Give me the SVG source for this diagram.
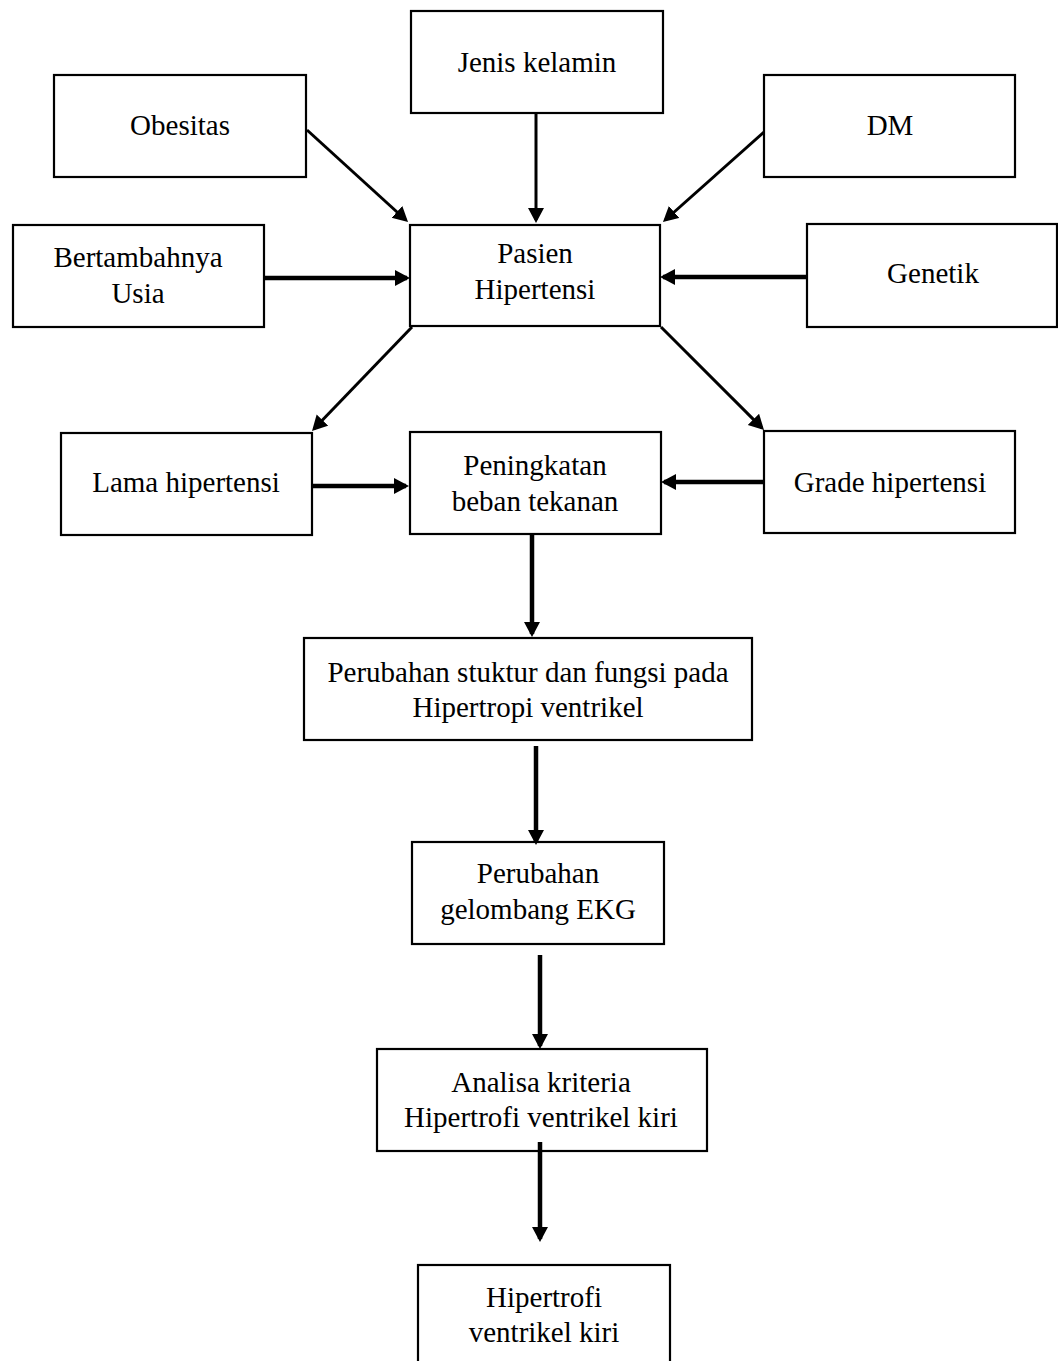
<svg xmlns="http://www.w3.org/2000/svg" width="1058" height="1361" viewBox="0 0 1058 1361">
<style>
.box{fill:#fff;stroke:#000;stroke-width:2.2}
.t{font-family:"Liberation Serif","Times New Roman",serif;font-size:29px;fill:#000;text-anchor:middle}
.c{fill:none;stroke:#000;stroke-width:3;marker-end:url(#ah)}
.c.k{stroke-width:4.5}
</style>
<defs>
<marker id="ah" markerUnits="userSpaceOnUse" markerWidth="18" markerHeight="18" refX="12" refY="8" orient="auto">
<path d="M0,0 L15,8 L0,16 z" fill="#000"/>
</marker>
</defs>
<rect width="1058" height="1361" fill="#fff"/>
<g id="jenis"><rect class="box" x="411" y="11" width="252" height="102"/><text class="t" x="537" y="72">Jenis kelamin</text></g>
<g id="obesitas"><rect class="box" x="54" y="75" width="252" height="102"/><text class="t" x="180" y="135">Obesitas</text></g>
<g id="dm"><rect class="box" x="764" y="75" width="251" height="102"/><text class="t" x="890" y="135">DM</text></g>
<g id="usia"><rect class="box" x="13" y="225" width="251" height="102"/><text class="t" x="138" y="267">Bertambahnya</text><text class="t" x="138" y="303">Usia</text></g>
<g id="pasien"><rect class="box" x="410" y="225" width="250" height="101"/><text class="t" x="535" y="263">Pasien</text><text class="t" x="535" y="299">Hipertensi</text></g>
<g id="genetik"><rect class="box" x="807" y="224" width="250" height="103"/><text class="t" x="933" y="283">Genetik</text></g>
<g id="lama"><rect class="box" x="61" y="433" width="251" height="102"/><text class="t" x="186" y="492">Lama hipertensi</text></g>
<g id="peningkatan"><rect class="box" x="410" y="432" width="251" height="102"/><text class="t" x="535" y="475">Peningkatan</text><text class="t" x="535" y="511">beban tekanan</text></g>
<g id="grade"><rect class="box" x="764" y="431" width="251" height="102"/><text class="t" x="890" y="492">Grade hipertensi</text></g>
<g id="perubahan"><rect class="box" x="304" y="638" width="448" height="102"/><text class="t" x="528" y="682">Perubahan stuktur dan fungsi pada</text><text class="t" x="528" y="717">Hipertropi ventrikel</text></g>
<g id="ekg"><rect class="box" x="412" y="842" width="252" height="102"/><text class="t" x="538" y="883">Perubahan</text><text class="t" x="538" y="919">gelombang EKG</text></g>
<g id="analisa"><rect class="box" x="377" y="1049" width="330" height="102"/><text class="t" x="541" y="1092">Analisa kriteria</text><text class="t" x="541" y="1127">Hipertrofi ventrikel kiri</text></g>
<g id="hipertrofi"><rect class="box" x="418" y="1265" width="252" height="110"/><text class="t" x="544" y="1307">Hipertrofi</text><text class="t" x="544" y="1342">ventrikel kiri</text></g>
<g id="connectors">
<line class="c" x1="536" y1="113" x2="536" y2="220"/>
<line class="c" x1="307" y1="130" x2="405.8" y2="220"/>
<line class="c" x1="764" y1="132" x2="665.2" y2="220"/>
<line class="c k" x1="264" y1="278" x2="407" y2="278"/>
<line class="c k" x1="807" y1="277" x2="663" y2="277"/>
<line class="c" x1="412" y1="327" x2="314.1" y2="428.8"/>
<line class="c" x1="661" y1="327" x2="761.9" y2="427.9"/>
<line class="c k" x1="312" y1="486" x2="406" y2="486"/>
<line class="c k" x1="764" y1="482" x2="664" y2="482"/>
<line class="c k" x1="532" y1="535" x2="532" y2="634"/>
<line class="c k" x1="536" y1="746" x2="536" y2="842"/>
<line class="c k" x1="540" y1="955" x2="540" y2="1046"/>
<line class="c k" x1="540" y1="1142" x2="540" y2="1239"/>
</g>
</svg>
